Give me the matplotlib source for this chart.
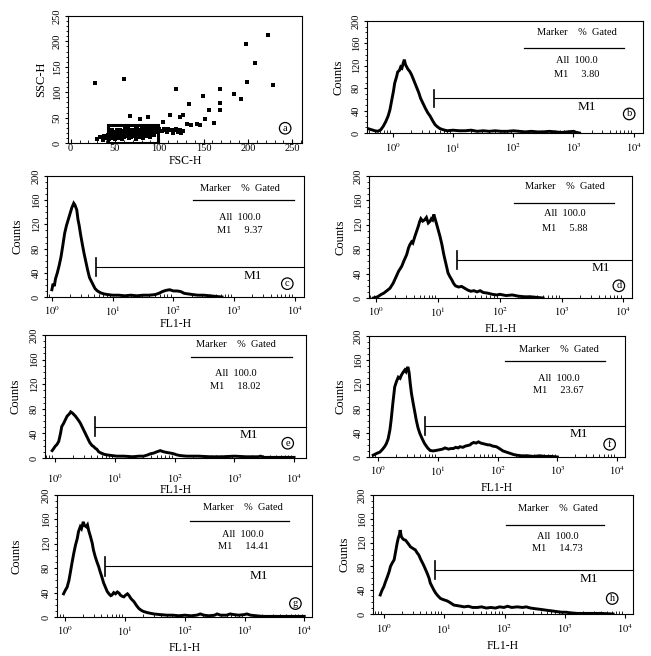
import numpy as np
import matplotlib
matplotlib.use('Agg')
import matplotlib.pyplot as plt
from matplotlib.ticker import FixedLocator, MultipleLocator, LogLocator, NullFormatter
from matplotlib.patches import Rectangle

plt.rcParams['font.family'] = ['Liberation Serif', 'DejaVu Serif']
plt.rcParams['mathtext.fontset'] = 'stix'

# ---------------- data ----------------
# panel a: FSC-H / SSC-H dot plot
scatter_fsc = [27, 60, 119, 149, 133, 156, 169, 168, 168, 184, 192, 198, 208, 199, 223, 228,
               162, 151, 136, 142, 123, 127, 112, 78, 87, 67, 104, 131, 146,
               30, 33, 36, 38, 40, 42, 43, 44, 45, 46, 47, 48, 49, 50, 51, 52, 53, 54, 55, 56,
               57, 58, 59, 60, 61, 62, 63, 64, 65, 66, 67, 68, 69, 70, 71, 72, 73, 74, 75, 76,
               77, 78, 79, 80, 81, 82, 83, 84, 85, 86, 87, 88, 89, 90, 91, 92, 93, 94, 96, 98,
               100, 103, 106, 109, 112, 115, 117, 119, 121, 123, 125, 127, 110, 105, 95, 85,
               75, 65, 55, 47, 50, 58, 66, 74, 82, 90, 54, 62, 70, 78, 86, 94]
scatter_ssc = [118, 126, 107, 93, 76, 65, 106, 78, 64, 96, 86, 194, 158, 120, 212, 115,
               40, 47, 36, 38, 52, 56, 55, 47, 51, 53, 42, 37, 35,
               8, 12, 6, 14, 10, 16, 8, 20, 12, 24, 15, 9, 18, 22, 12, 26, 16, 20, 10, 25,
               14, 19, 23, 12, 27, 17, 21, 14, 25, 18, 22, 12, 26, 16, 20, 24, 15, 27, 19, 23,
               13, 26, 18, 22, 27, 16, 24, 20, 26, 17, 23, 28, 19, 25, 21, 27, 18, 24, 26, 22,
               27, 24, 26, 22, 25, 20, 25, 27, 22, 26, 19, 24, 28, 28, 28, 28,
               27, 27, 26, 25, 8, 7, 9, 8, 10, 11, 17, 15, 14, 12, 13, 15]
gate_fsc = (42, 98)
gate_ssc = (0, 35)

# histograms: log10(FL1-H) channel position and counts
b_log = [-0.42, -0.36, -0.30, -0.25, -0.20, -0.16, -0.12, -0.08, -0.05, -0.02, 0.01, 0.03, 0.06,
         0.08, 0.11, 0.13, 0.15, 0.17, 0.19, 0.21, 0.23, 0.25, 0.28, 0.31, 0.34, 0.37, 0.40,
         0.43, 0.46, 0.50, 0.54, 0.58, 0.62, 0.66, 0.70, 0.74, 0.78, 0.83, 0.90, 1.0, 1.1,
         1.2, 1.3, 1.4, 1.5, 1.6, 1.7, 1.8, 1.9, 2.0, 2.1, 2.2, 2.3, 2.4, 2.5, 2.6, 2.7,
         2.8, 2.9, 3.0, 3.05, 3.1]
b_cnt = [8, 6, 4, 3, 6, 12, 20, 30, 41, 58, 75, 89, 100, 109, 112, 118, 116, 124, 131, 122,
         118, 114, 110, 104, 96, 88, 80, 72, 62, 53, 44, 36, 30, 22, 15, 11, 8, 6, 4, 5, 4,
         4, 5, 3, 4, 3, 4, 3, 3, 4, 3, 2, 3, 2, 2, 3, 2, 1, 2, 3, 1, 0]

c_log = [0.00, 0.02, 0.04, 0.06, 0.09, 0.12, 0.15, 0.18, 0.21, 0.24, 0.27, 0.30, 0.33, 0.36,
         0.38, 0.41, 0.43, 0.45, 0.47, 0.50, 0.53, 0.56, 0.59, 0.62, 0.65, 0.68, 0.71, 0.75,
         0.80, 0.86, 0.92, 1.0, 1.1, 1.2, 1.3, 1.4, 1.5, 1.6, 1.7, 1.76, 1.82, 1.88, 1.94,
         2.0, 2.06, 2.12, 2.18, 2.25, 2.32, 2.4, 2.5, 2.6, 2.7, 2.8]
c_cnt = [12, 22, 18, 30, 40, 52, 66, 85, 105, 118, 128, 138, 148, 155, 152, 144, 128, 118,
         105, 88, 72, 58, 44, 32, 26, 20, 14, 10, 7, 5, 4, 3, 3, 2, 3, 2, 3, 3, 4, 6, 9, 11,
         12, 10, 10, 9, 6, 5, 4, 3, 3, 2, 1, 0]

d_log = [-0.05, 0.02, 0.08, 0.12, 0.17, 0.22, 0.27, 0.32, 0.36, 0.41, 0.45, 0.49, 0.52, 0.54,
         0.57, 0.59, 0.62, 0.65, 0.68, 0.70, 0.72, 0.75, 0.78, 0.81, 0.84, 0.87, 0.89, 0.91,
         0.93, 0.95, 0.97, 1.00, 1.03, 1.06, 1.09, 1.11, 1.14, 1.16, 1.19, 1.22, 1.25, 1.28,
         1.33, 1.38, 1.43, 1.48, 1.53, 1.58, 1.63, 1.68, 1.73, 1.8, 1.88, 1.95, 2.0, 2.1,
         2.2, 2.3, 2.4, 2.5, 2.6, 2.7]
d_cnt = [0, 2, 6, 8, 12, 16, 24, 35, 44, 52, 62, 71, 82, 87, 92, 90, 100, 109, 118, 125, 130,
         126, 128, 132, 123, 126, 130, 128, 137, 130, 123, 112, 101, 88, 72, 63, 50, 41, 35,
         30, 24, 20, 18, 19, 16, 13, 11, 12, 10, 12, 9, 8, 6, 5, 6, 4, 5, 3, 2, 2, 1, 0]

e_log = [-0.05, -0.02, 0.00, 0.03, 0.06, 0.09, 0.11, 0.14, 0.17, 0.20, 0.22, 0.24, 0.26, 0.29,
         0.32, 0.34, 0.37, 0.40, 0.42, 0.46, 0.50, 0.54, 0.58, 0.62, 0.64, 0.67, 0.70, 0.73,
         0.77, 0.82, 0.87, 0.95, 1.03, 1.15, 1.3, 1.4, 1.48, 1.55, 1.6, 1.65, 1.7, 1.76,
         1.82, 1.87, 1.93, 1.98, 2.04, 2.09, 2.2, 2.4, 2.6, 2.8, 3.0, 3.2, 3.4, 3.44, 3.5,
         3.7, 3.9, 4.0]
e_cnt = [12, 16, 19, 22, 27, 40, 51, 56, 62, 68, 70, 72, 75, 73, 70, 68, 64, 60, 57, 49, 41,
         33, 25, 20, 19, 16, 14, 10, 8, 6, 5, 4, 3, 3, 2, 3, 3, 5, 7, 8, 10, 12, 10, 9, 8, 7,
         5, 4, 3, 3, 2, 2, 3, 2, 2, 3, 1, 1, 1, 1]

f_log = [-0.08, -0.02, 0.03, 0.07, 0.11, 0.14, 0.17, 0.20, 0.22, 0.25, 0.28, 0.31, 0.34, 0.37,
         0.39, 0.42, 0.45, 0.47, 0.50, 0.52, 0.54, 0.56, 0.59, 0.62, 0.64, 0.67, 0.70, 0.74,
         0.78, 0.83, 0.87, 0.92, 0.98, 1.03, 1.08, 1.12, 1.18, 1.22, 1.26, 1.3, 1.34, 1.37,
         1.42, 1.46, 1.5, 1.54, 1.56, 1.6, 1.64, 1.68, 1.72, 1.76, 1.8, 1.84, 1.87, 1.92,
         1.98, 2.03, 2.09, 2.15, 2.21, 2.27, 2.32, 2.4, 2.5, 2.6, 2.7, 2.8, 2.9, 3.0]
f_cnt = [3, 6, 8, 12, 17, 22, 30, 45, 61, 90, 116, 125, 132, 130, 135, 140, 144, 141, 149,
         140, 121, 105, 88, 72, 61, 48, 39, 30, 22, 15, 11, 10, 11, 12, 13, 15, 13, 14, 14,
         16, 15, 17, 16, 18, 19, 20, 22, 24, 23, 25, 23, 22, 21, 20, 20, 18, 17, 14, 10, 8,
         6, 4, 3, 2, 2, 1, 2, 1, 1, 0]

g_log = [-0.03, 0.00, 0.03, 0.06, 0.08, 0.11, 0.14, 0.17, 0.20, 0.22, 0.25, 0.27, 0.30, 0.32,
         0.35, 0.37, 0.39, 0.42, 0.45, 0.47, 0.50, 0.53, 0.56, 0.58, 0.61, 0.64, 0.67, 0.70,
         0.73, 0.76, 0.78, 0.81, 0.84, 0.87, 0.90, 0.92, 0.95, 0.98, 1.01, 1.04, 1.06, 1.10,
         1.15, 1.19, 1.23, 1.27, 1.31, 1.38, 1.48, 1.58, 1.7, 1.8, 1.9, 2.0, 2.1, 2.2, 2.26,
         2.32, 2.4, 2.5, 2.54, 2.6, 2.7, 2.76, 2.82, 2.9, 3.0, 3.04, 3.1, 3.2, 3.3, 3.5, 3.7,
         3.9, 4.0]
g_cnt = [38, 44, 49, 60, 71, 88, 104, 118, 129, 140, 148, 145, 156, 150, 148, 151, 142, 132,
         121, 110, 99, 90, 82, 75, 66, 56, 49, 42, 38, 35, 36, 40, 38, 41, 39, 36, 34, 33, 36,
         38, 36, 30, 25, 19, 14, 11, 9, 7, 5, 4, 3, 3, 2, 3, 2, 3, 5, 3, 2, 3, 5, 3, 3, 5, 4,
         3, 4, 5, 3, 2, 1, 1, 1, 1, 1]

h_log = [-0.06, -0.03, 0.00, 0.03, 0.06, 0.09, 0.11, 0.14, 0.17, 0.19, 0.22, 0.24, 0.26, 0.27,
         0.29, 0.31, 0.33, 0.36, 0.39, 0.42, 0.44, 0.47, 0.50, 0.52, 0.55, 0.58, 0.61, 0.64,
         0.66, 0.69, 0.72, 0.75, 0.77, 0.80, 0.83, 0.86, 0.90, 0.94, 0.99, 1.05, 1.1, 1.16,
         1.22, 1.28, 1.33, 1.4, 1.47, 1.55, 1.62, 1.7, 1.77, 1.85, 1.92, 1.99, 2.05, 2.12,
         2.21, 2.3, 2.36, 2.43, 2.5, 2.58, 2.65, 2.72, 2.8, 2.87, 2.95, 3.02, 3.09, 3.2, 3.4,
         3.6, 3.8]
h_cnt = [32, 40, 46, 55, 63, 72, 80, 86, 91, 102, 119, 128, 134, 141, 130, 127, 125, 124, 120,
         116, 113, 111, 109, 108, 103, 99, 92, 86, 82, 75, 68, 60, 52, 46, 40, 35, 30, 26, 24,
         22, 19, 15, 14, 13, 12, 13, 11, 11, 12, 10, 11, 10, 12, 11, 13, 11, 12, 11, 12, 10,
         9, 8, 7, 6, 5, 4, 3, 3, 2, 1, 1, 1, 0]

panel_letters = ['b', 'c', 'd', 'e', 'f', 'g', 'h']
hist_logs = [b_log, c_log, d_log, e_log, f_log, g_log, h_log]
hist_cnts = [b_cnt, c_cnt, d_cnt, e_cnt, f_cnt, g_cnt, h_cnt]
m1_percent = ['3.80', '9.37', '5.88', '18.02', '23.67', '14.41', '14.73']
all_percent = '100.0'
m1_start_log = [0.676, 0.73, 1.30, 0.67, 0.78, 0.67, 0.845]

# ---------------- layout (pixels) ----------------
W, H = 651, 656
fig = plt.figure(figsize=(W / 100, H / 100), dpi=100)


def add_ax(x0, x1, ytop, ybot):
    return fig.add_axes([x0 / W, (H - ybot) / H, (x1 - x0) / W, (ybot - ytop) / H])


frames = {
    'b': (367, 643, 21, 133), 'c': (47, 304, 176, 297), 'd': (369, 632, 176, 298),
    'e': (45, 306, 335, 458), 'f': (369, 625, 336, 457), 'g': (57, 312, 495, 617),
    'h': (373, 633, 495, 614),
}
xlims = {'b': (-0.43, 4.155), 'c': (-0.08, 4.15), 'd': (-0.12, 4.14), 'e': (-0.17, 4.2),
         'f': (-0.15, 4.13), 'g': (-0.14, 4.13), 'h': (-0.18, 4.13)}
# legend: centre x, marker-title y, rule y, rule x0, rule x1, "All" y, "M1" y
legend_pos = {
    'b': (0.76, 0.90, 0.76, 0.57, 0.93, 0.65, 0.52),
    'c': (0.75, 0.90, 0.80, 0.57, 0.96, 0.66, 0.55),
    'd': (0.745, 0.91, 0.78, 0.55, 0.93, 0.695, 0.57),
    'e': (0.73, 0.92, 0.82, 0.56, 0.945, 0.69, 0.58),
    'f': (0.74, 0.89, 0.79, 0.53, 0.92, 0.65, 0.55),
    'g': (0.73, 0.90, 0.79, 0.52, 0.91, 0.68, 0.575),
    'h': (0.71, 0.89, 0.75, 0.51, 0.89, 0.655, 0.55),
}
gate_y = {'b': 62, 'c': 49, 'd': 62, 'e': 51, 'f': 51, 'g': 83, 'h': 74}
m1_label_pos = {'b': (0.795, 0.23), 'c': (0.80, 0.17), 'd': (0.88, 0.245), 'e': (0.78, 0.19),
                'f': (0.82, 0.19), 'g': (0.79, 0.34), 'h': (0.83, 0.29)}
circle_pos = {'b': (0.95, 0.17), 'c': (0.935, 0.11), 'd': (0.95, 0.10), 'e': (0.93, 0.12),
              'f': (0.94, 0.105), 'g': (0.935, 0.11), 'h': (0.92, 0.13)}
xtick_pad = {'b': 3, 'c': 2, 'd': 2, 'e': 7, 'f': 2, 'g': 2, 'h': 3}
xlabel_pad = {'b': None, 'c': 0, 'd': 3, 'e': -1, 'f': 3, 'g': 3, 'h': 3}
ylabel_pad = {'b': 5, 'c': 6, 'd': 5, 'e': 6, 'f': 5, 'g': 14, 'h': 5}

TICK_FS = 7.5
circ_box = dict(boxstyle='circle,pad=0.12', fc='white', ec='black', lw=0.9)

# ---------------- panel a ----------------
axa = add_ax(68, 302, 16, 143)
axa.scatter(scatter_fsc, scatter_ssc, s=5, marker='s', c='black', linewidths=0)
axa.add_patch(Rectangle((gate_fsc[0], gate_ssc[0]), gate_fsc[1] - gate_fsc[0],
                        gate_ssc[1] - gate_ssc[0], fill=False, ec='black', lw=2.2))
axa.set_xlim(-3, 261)
axa.set_ylim(0, 250)
axa.xaxis.set_major_locator(FixedLocator([0, 50, 100, 150, 200, 250]))
axa.yaxis.set_major_locator(FixedLocator([0, 50, 100, 150, 200, 250]))
axa.xaxis.set_minor_locator(MultipleLocator(10))
axa.yaxis.set_minor_locator(MultipleLocator(10))
axa.tick_params(axis='x', which='major', direction='in', length=3, pad=1, labelsize=TICK_FS)
axa.tick_params(axis='x', which='minor', direction='in', length=2)
axa.tick_params(axis='y', which='major', direction='out', length=2.5, pad=2, labelsize=TICK_FS)
axa.tick_params(axis='y', which='minor', direction='out', length=1.5)
for lbl in axa.get_yticklabels():
    lbl.set_rotation(90)
    lbl.set_va('center')
axa.set_xlabel('FSC-H', fontsize=8.5, labelpad=1)
axa.set_ylabel('SSC-H', fontsize=9, labelpad=4)
axa.text(242, 29, 'a', fontsize=7.5, ha='center', va='center', bbox=circ_box)

# ---------------- histogram panels ----------------
for letter, lx, cnt, pct, m1x in zip(panel_letters, hist_logs, hist_cnts, m1_percent, m1_start_log):
    ax = add_ax(*frames[letter])
    ax.set_xscale('log')
    ax.plot(10 ** np.asarray(lx), cnt, color='black', lw=2.1, solid_joinstyle='miter')
    ax.set_xlim(10 ** xlims[letter][0], 10 ** xlims[letter][1])
    ax.set_ylim(0, 200)
    ax.xaxis.set_major_locator(FixedLocator([1, 10, 100, 1000, 10000]))
    ax.set_xticklabels([r'$10^{0}$', r'$10^{1}$', r'$10^{2}$', r'$10^{3}$', r'$10^{4}$'])
    ax.xaxis.set_minor_locator(LogLocator(base=10, subs=np.arange(2, 10), numticks=20))
    ax.xaxis.set_minor_formatter(NullFormatter())
    ax.yaxis.set_major_locator(FixedLocator([0, 40, 80, 120, 160, 200]))
    ax.yaxis.set_minor_locator(MultipleLocator(10))
    ax.tick_params(axis='x', which='major', direction='out', length=3,
                   pad=xtick_pad[letter], labelsize=TICK_FS)
    ax.tick_params(axis='x', which='minor', direction='in', length=2)
    ax.tick_params(axis='y', which='major', direction='out', length=2.5, pad=2, labelsize=TICK_FS)
    ax.tick_params(axis='y', which='minor', direction='out', length=1.5)
    for lbl in ax.get_yticklabels():
        lbl.set_rotation(90)
        lbl.set_va('center')
    ax.set_ylabel('Counts', fontsize=9, labelpad=ylabel_pad[letter])
    if xlabel_pad[letter] is not None:
        ax.set_xlabel('FL1-H', fontsize=8.5, labelpad=xlabel_pad[letter])

    cx, ty, ry, rx0, rx1, ay, my = legend_pos[letter]
    ax.text(cx, ty, 'Marker    %  Gated', transform=ax.transAxes, fontsize=7.5,
            ha='center', va='center')
    ax.plot([rx0, rx1], [ry, ry], transform=ax.transAxes, color='black', lw=0.9)
    ax.text(cx, ay, 'All  ' + all_percent, transform=ax.transAxes, fontsize=7.5,
            ha='center', va='center')
    ax.text(cx, my, 'M1     ' + pct, transform=ax.transAxes, fontsize=7.5,
            ha='center', va='center')

    # M1 gate marker
    gy = gate_y[letter]
    ax.plot([10 ** m1x, 10 ** xlims[letter][1]], [gy, gy], color='black', lw=0.8, clip_on=False)
    ax.plot([10 ** m1x, 10 ** m1x], [gy - 15, gy + 15], color='black', lw=1.2)
    mx, myy = m1_label_pos[letter]
    ax.text(mx, myy, 'M1', transform=ax.transAxes, fontsize=9.5, ha='center', va='center')
    px, py = circle_pos[letter]
    ax.text(px, py, letter, transform=ax.transAxes, fontsize=7.5, ha='center', va='center',
            bbox=circ_box)

fig.savefig('out.png', dpi=100)
